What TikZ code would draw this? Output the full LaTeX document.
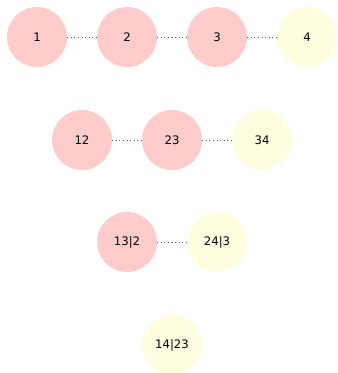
\documentclass[tikz,border=0pt]{standalone}
\usepackage{fontspec}
\setmainfont{DejaVu Sans}
\usepackage{tikz}
\usetikzlibrary{positioning}

\definecolor{ballpink}{HTML}{FFCCCC}
\definecolor{ballyellow}{HTML}{FFFDE0}
\tikzset{
  pinkball/.style={circle,fill=ballpink,minimum size=45pt,inner sep=0pt,font=\fontsize{8.8}{10}\selectfont},
  yellowball/.style={circle,fill=ballyellow,minimum size=45pt,inner sep=0pt,font=\fontsize{8.8}{10}\selectfont},
  link/.style={dotted,line width=0.7pt,black!65}
}

\begin{document}
\begin{tikzpicture}[x=0.75pt,y=-0.75pt]
\useasboundingbox (0,0) rectangle (337,373);
% singletons
\node[pinkball] (n1) at (37,37) {1};
\node[pinkball] (n2) at (127,37) {2};
\node[pinkball] (n3) at (217,37) {3};
\node[yellowball] (n4) at (307,37) {4};
% pairs
\node[pinkball] (n12) at (82,140) {12};
\node[pinkball] (n23) at (172,140) {23};
\node[yellowball] (n34) at (262,140) {34};
% conditioned
\node[pinkball] (n13c2) at (127,242) {13|2};
\node[yellowball] (n24c3) at (217,242) {24|3};
\node[yellowball] (n14c23) at (172,345) {14|23};
\draw[link] (n1) -- (n2) -- (n3) -- (n4);
\draw[link] (n12) -- (n23) -- (n34);
\draw[link] (n13c2) -- (n24c3);
\end{tikzpicture}
\end{document}
